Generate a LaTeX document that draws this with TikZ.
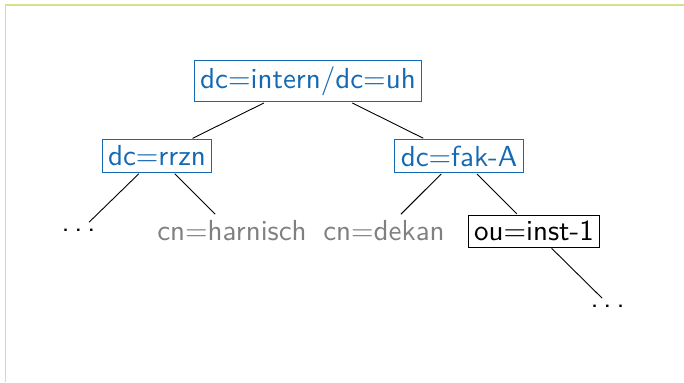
\documentclass[tikz,border=0pt]{standalone}
\definecolor{ldapblue}{RGB}{20,105,180}
\definecolor{framecol}{RGB}{215,225,140}
\definecolor{leafgray}{RGB}{128,128,128}
\newcommand{\spdots}{.\kern1.7pt.\kern1.7pt.\kern1.7pt}
\begin{document}
\begin{tikzpicture}[x=0.34483pt, y=-0.34483pt, scale=2.9,
  every node/.style={transform shape, font=\sffamily, inner sep=2.07pt},
  dnbox/.style={draw=ldapblue, text=ldapblue, line width=1pt},
  oubox/.style={draw=black, line width=0.9pt},
  leaf/.style={text=leafgray},
  edgeline/.style={line width=0.9pt, black}]
\useasboundingbox (0,0) rectangle (684,382);
\draw[framecol, line width=1.5pt] (5.5,382) -- (5.5,5) -- (684,5);
\node[dnbox] (root) at (308,81) {dc=intern/dc=uh};
\node[dnbox] (rrzn) at (157,156) {dc=rrzn};
\node[dnbox] (fak) at (459,156) {dc=fak-A};
\node (dotsa) at (81,230) {\spdots};
\node[leaf] (harn) at (232,231) {cn=harnisch};
\node[leaf] (dekan) at (384,231) {cn=dekan};
\node[oubox] (inst) at (534,231) {ou=inst-1};
\node (dotsb) at (610,306) {\spdots};
\draw[edgeline] (root) -- (rrzn);
\draw[edgeline] (root) -- (fak);
\draw[edgeline] (rrzn) -- (dotsa);
\draw[edgeline] (rrzn) -- (harn);
\draw[edgeline] (fak) -- (dekan);
\draw[edgeline] (fak) -- (inst);
\draw[edgeline] (inst) -- (dotsb);
\end{tikzpicture}
\end{document}
